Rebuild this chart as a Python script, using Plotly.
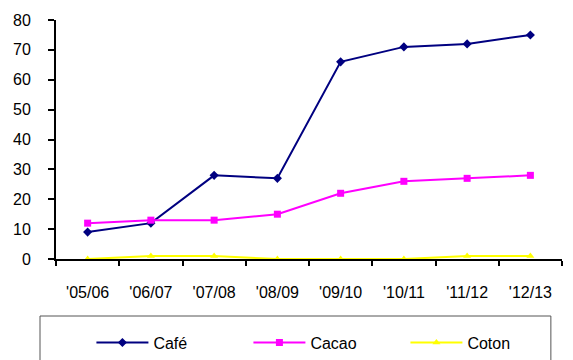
import plotly.graph_objects as go

campagnes = ["'05/06", "'06/07", "'07/08", "'08/09", "'09/10", "'10/11", "'11/12", "'12/13"]
cafe = [9, 12, 28, 27, 66, 71, 72, 75]
cacao = [12, 13, 13, 15, 22, 26, 27, 28]
coton = [0, 1, 1, 0, 0, 0, 1, 1]

fig = go.Figure()
fig.add_trace(go.Scatter(x=campagnes, y=cafe, name="Café", mode="lines+markers",
                         line=dict(color="#000080", width=2),
                         marker=dict(symbol="diamond", size=7, color="#000080")))
fig.add_trace(go.Scatter(x=campagnes, y=cacao, name="Cacao", mode="lines+markers",
                         line=dict(color="#FF00FF", width=2),
                         marker=dict(symbol="square", size=7, color="#FF00FF")))
fig.add_trace(go.Scatter(x=campagnes, y=coton, name="Coton", mode="lines+markers",
                         line=dict(color="#FFFF00", width=2),
                         marker=dict(symbol="triangle-up", size=7, color="#FFFF00")))

# frame around the legend, extending below the page edge
fig.add_shape(type="rect", xref="paper", yref="paper",
              x0=-0.0316, x1=0.978, y0=-0.46, y1=-0.2385,
              line=dict(color="#555555", width=1), fillcolor="rgba(0,0,0,0)")

fig.update_layout(
    width=573, height=360,
    margin=dict(l=56, r=11, t=20, b=101, autoexpand=False),
    paper_bgcolor="white", plot_bgcolor="white",
    font=dict(family="Liberation Sans, Arial, sans-serif", size=16, color="black"),
    showlegend=True,
    legend=dict(orientation="h", x=0.07, y=-0.35, xanchor="left", yanchor="middle",
                itemwidth=52, entrywidth=90, entrywidthmode="pixels",
                font=dict(size=16), bgcolor="rgba(0,0,0,0)", borderwidth=0),
)
fig.update_xaxes(type="category", range=[-0.5, 7.5], showline=True, linecolor="black",
                 linewidth=2, ticks="outside", tickson="boundaries", ticklen=5,
                 tickwidth=2, tickcolor="black", showgrid=False, zeroline=False,
                 ticklabelstandoff=18)
fig.update_yaxes(range=[0, 80], dtick=10, showline=True, linecolor="black", linewidth=2,
                 ticks="outside", ticklen=6, tickwidth=2, tickcolor="black",
                 showgrid=False, zeroline=False, ticklabelstandoff=14)

fig.write_html("out.html")
